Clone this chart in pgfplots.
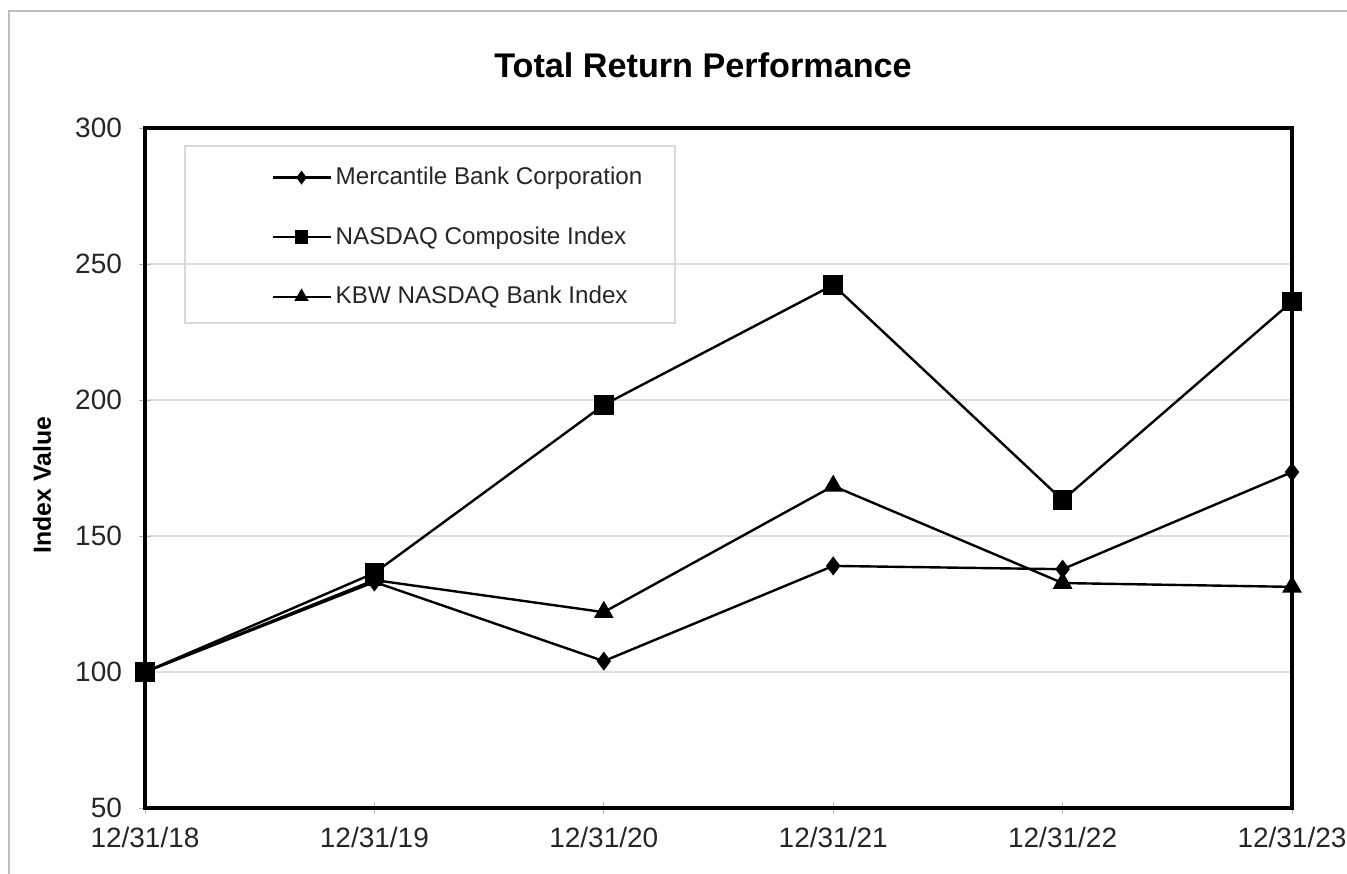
\documentclass[border=0pt]{standalone}
\usepackage{pgfplots}
\pgfplotsset{compat=1.18}
\usepackage{fontspec}
\setmainfont{Liberation Sans}
\begin{document}
\begin{tikzpicture}
\path[use as bounding box] (-72.5pt,-32.5pt) rectangle (601pt,404pt);
\begin{axis}[
  at={(0,0)}, anchor=south west,
  scale only axis,
  width=573.5pt, height=340pt,
  xmin=0, xmax=5, ymin=50, ymax=300,
  xtick={0,1,2,3,4,5},
  xticklabels={12/31/18,12/31/19,12/31/20,12/31/21,12/31/22,12/31/23},
  ytick={50,100,150,200,250,300},
  /pgf/number format/assume math mode=true,
  tick label style={font=\fontsize{14}{16}\selectfont, text=black!85},
  yticklabel style={xshift=-5pt},
  xticklabel style={yshift=-3pt},
  ymajorgrids,
  major grid style={gray!25, line width=0.6pt},
  axis line style={line width=1.6pt},
  tick align=center,
  major tick length=6pt,
  tick style={gray!60, line width=0.4pt},
  xtick pos=bottom, ytick pos=left,
  ylabel={Index Value},
  ylabel style={font=\bfseries\fontsize{12.4}{14}\selectfont, at={(axis description cs:-0.0898,0.475)}, anchor=center},
  title={Total Return Performance},
  title style={font=\bfseries\fontsize{17.1}{20}\selectfont, at={(axis description cs:0.4865,1.075)}, anchor=center},
  legend style={draw=none, fill=none, at={(axis description cs:0.1098,0.9486)}, anchor=north west,
    font=\fontsize{12.1}{14}\selectfont, row sep=15.5pt, inner sep=0pt, cells={anchor=west, text=black!85}},
  legend image code/.code={\draw[mark repeat=2, mark phase=2, #1, every mark/.append style={scale=0.65}] plot coordinates {(0pt,0pt) (14.5pt,0pt) (29pt,0pt)};},
  clip=false,
]
\draw[gray!30, line width=0.6pt] (axis description cs:0.0349,0.9735) rectangle (axis description cs:0.4621,0.7132);
\addplot[black, line width=1.2pt, mark=diamond*, mark size=3.8pt, mark options={solid}]
  coordinates {(0,100) (1,133.1) (2,104) (3,139) (4,137.8) (5,173.5)};
\addlegendentry{Mercantile Bank Corporation}
\addplot[black, line width=1.2pt, mark=square*, mark size=4.3pt, mark options={solid}]
  coordinates {(0,100) (1,136.4) (2,198.2) (3,242.3) (4,163.2) (5,236.2)};
\addlegendentry{NASDAQ Composite Index}
\addplot[black, line width=1.2pt, mark=triangle*, mark size=4.5pt, mark options={solid}]
  coordinates {(0,100) (1,133.8) (2,122) (3,168.4) (4,132.7) (5,131.3)};
\addlegendentry{KBW NASDAQ Bank Index}
\end{axis}
\draw[gray!50, line width=0.8pt] (-68pt,-40pt) -- (-68pt,398.5pt) -- (610pt,398.5pt);
\end{tikzpicture}
\end{document}
